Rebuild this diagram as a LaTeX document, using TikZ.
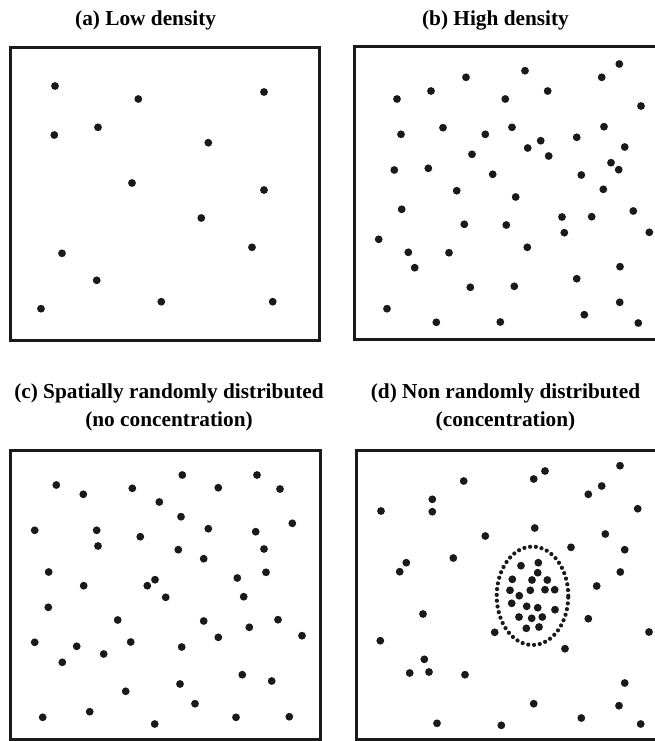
\documentclass[tikz,border=0pt]{standalone}
\usepackage{fontspec}
\setmainfont{Liberation Serif}
\usepackage{tikz}

\definecolor{inkdark}{HTML}{1A1A1A}
\tikzset{
  panelbox/.style={draw=inkdark, line width=3pt},
  spot/.style={fill=inkdark},
  ringdots/.style={draw=inkdark, line width=4.2pt, line cap=round,
                   dash pattern=on 0pt off 5.8pt},
  paneltitle/.style={anchor=base, inner sep=0pt, align=center,
                     font=\fontsize{21.3}{28.4}\selectfont\bfseries},
}

\begin{document}
\begin{tikzpicture}[x=1pt, y=-1pt]
  \useasboundingbox (0,0) rectangle (655,741);

  % Titles
  \node[paneltitle] (titleA) at (145.6,26) {(a) Low density};
  \node[paneltitle] (titleB) at (495.5,26) {(b) High density};
  \node[paneltitle] (titleC) at (169,426.7)
    {(c) Spatially randomly distributed\\(no concentration)};
  \node[paneltitle] (titleD) at (505.5,426.7)
    {(d) Non randomly distributed\\(concentration)};

  % Frames (right hand panels run off the page)
  \draw[panelbox] (10,47.5) rectangle (319,340);
  \draw[panelbox] (655,46.7) -| (354.5,339.5) -- (655,339.5);
  \draw[panelbox] (10.5,450) rectangle (320,739);
  \draw[panelbox] (655,450) -| (356.5,739) -- (655,739);

  % (a) low density
  \foreach \x/\y in {55/86, 138.3/99, 264/92, 54.3/135, 98/127.3,
      208.3/142.7, 132/183, 264/190, 201.3/218, 62/253.3, 252/247.3,
      96.7/280.3, 41/308.7, 161.3/301.7, 272.7/301.7}
    \fill[spot] (\x,\y) circle (3.9pt);

  % (b) high density
  \foreach \x/\y in {619.3/64, 525/70.7, 601.7/77.3, 466/77.3, 431/91,
      547.7/91, 397/99, 505.3/99, 641/106, 443/127.7, 512/127.3,
      604/126.7, 401/134.3, 485.3/134.3, 576.7/137.3, 540.7/140.7,
      527.7/148, 624.7/147, 472/154.3, 548.7/156, 611/162.7, 394.3/170,
      428.3/168.3, 618.7/169.7, 492.7/174.3, 581.3/175, 456.7/190.7,
      603.3/189.3, 515.7/197, 401.7/209.3, 633.3/211, 562/217,
      591.7/216.7, 464.3/224.3, 506.3/225, 564.3/232.7, 649.3/232.3,
      378.7/239.3, 408.3/252.3, 449/252.7, 527.3/247.3, 414.7/267.7,
      620/266.7, 576.7/278.7, 470.3/287.3, 514.3/286.3, 387/308.7,
      619.7/302.3, 436.3/322.3, 500.3/322, 584.3/314.7, 638.3/323}
    \fill[spot] (\x,\y) circle (3.9pt);

  % (c) spatially random
  \foreach \x/\y in {182.3/475, 257/475, 56.3/485, 83.3/494.3,
      132.3/488.3, 218.3/487.7, 280/489, 159.3/502, 181/516.7,
      292.3/523.3, 34.7/530.3, 96.7/530.3, 208.3/528.7, 255.7/531.7,
      140.3/536.7, 98/546, 178.3/549.7, 264/549, 203.7/558.7, 48.7/572,
      266/572.3, 83.7/585.7, 147.3/585.7, 155/579.7, 237.3/578,
      165.7/597.3, 243.7/596.7, 48.3/607.3, 117.7/620, 203.7/621,
      278/619.7, 249.3/627.3, 302/635.7, 34.7/642.3, 130.7/642,
      218.3/637.3, 76.7/646.3, 103.7/654, 181.7/647, 62.3/662.3,
      242.3/674.7, 271.7/681, 180/684, 125.7/691.3, 195/703.7,
      42.7/717.3, 89.7/711.7, 154.7/724, 236/717.3, 289.3/716.7}
    \fill[spot] (\x,\y) circle (3.9pt);

  % (d) non random: scattered points
  \foreach \x/\y in {620/465.7, 545/471, 533.7/479, 463.7/481,
      601.7/486, 588.3/494.3, 432.3/499.3, 432.3/511.7, 381/511,
      637.7/508.7, 534.7/528, 485.3/536, 605.3/534, 571/547.3,
      624.7/549.7, 453.3/558, 406.3/562.7, 399.7/571.7, 620.3/572,
      596.7/586, 423/614, 588.3/618.7, 649/632, 380.3/640.7,
      494.7/632.3, 565/648.7, 424.3/659.3, 409.7/673, 429/672,
      465/674.7, 624.7/683, 533.7/703.7, 619/705.7, 437/723.3,
      501.3/725.3, 581.3/718, 640.7/724}
    \fill[spot] (\x,\y) circle (3.9pt);

  % (d) non random: cluster
  \foreach \x/\y in {521/565.7, 538.3/562.7, 537.7/572.7, 512.3/579.3,
      532/580, 547.3/580, 510/590.3, 519.3/595.7, 530.3/590.3,
      545/589.7, 554.7/589.7, 511.7/603.3, 526.7/606.3, 537.7/607.7,
      555/609.7, 519/617, 531.7/618.3, 542.3/617, 526.3/628.3, 539/627}
    \fill[spot] (\x,\y) circle (3.9pt);
  \draw[ringdots] (532.5,595.8) ellipse [x radius=35.8pt, y radius=49.2pt];
\end{tikzpicture}
\end{document}
